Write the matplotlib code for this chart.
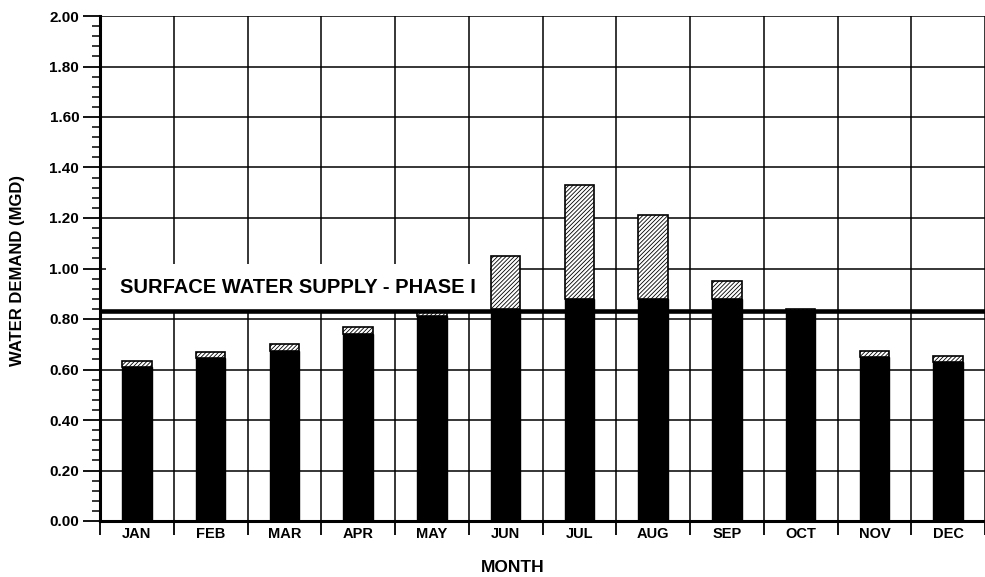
import matplotlib.pyplot as plt
import numpy as np
from matplotlib.ticker import MultipleLocator

plt.rcParams['font.family'] = ['Liberation Sans', 'DejaVu Sans']
plt.rcParams['hatch.linewidth'] = 0.6

months = ["JAN", "FEB", "MAR", "APR", "MAY", "JUN",
          "JUL", "AUG", "SEP", "OCT", "NOV", "DEC"]
# demand met by the base supply (solid) and the extra demand on top (hatched), MGD
base_demand = [0.61, 0.645, 0.675, 0.74, 0.81, 0.84, 0.88, 0.88, 0.88, 0.83, 0.65, 0.63]
extra_demand = [0.025, 0.025, 0.025, 0.03, 0.02, 0.21, 0.45, 0.33, 0.07, 0.01, 0.025, 0.025]
supply_phase1 = 0.83
supply_label = "SURFACE WATER SUPPLY - PHASE I"

fig = plt.figure(figsize=(9.85, 5.77), dpi=100)
ax = fig.add_axes([100 / 985, 56 / 577, 885 / 985, 505 / 577])

x = np.arange(len(months))
ax.bar(x, base_demand, width=0.4, color="black", edgecolor="black", zorder=3)
ax.bar(x, extra_demand, width=0.4, bottom=base_demand, color="white",
       edgecolor="black", hatch="////////", linewidth=1.2, zorder=3)

ax.axhline(supply_phase1, color="black", linewidth=3.3, zorder=4)
ax.text(-0.23, 0.925, supply_label, fontsize=14.5, fontweight="bold",
        va="center", ha="left", zorder=2,
        bbox=dict(facecolor="white", edgecolor="none", pad=10))

ax.set_xlim(-0.5, 11.43)
ax.set_ylim(0, 2.0)
ax.set_xticks(x)
ax.set_xticklabels(months, fontsize=10.5, fontweight="bold")
ax.set_xticks(np.arange(-0.5, 12, 1), minor=True)
ax.tick_params(axis="x", which="major", length=0, pad=4)
ax.tick_params(axis="x", which="minor", length=10, width=1.3, direction="out")

ax.yaxis.set_minor_locator(MultipleLocator(0.04))
ax.set_yticks(np.arange(0, 2.01, 0.2))
ax.set_yticklabels([f"{v:.2f}" for v in np.arange(0, 2.01, 0.2)],
                   fontsize=11, fontweight="bold")
ax.tick_params(axis="y", which="major", length=12, width=1.3, pad=3)
ax.tick_params(axis="y", which="minor", length=6, width=1.1)

ax.grid(True, axis="y", which="major", color="black", linewidth=1.1, zorder=1)
ax.grid(True, axis="x", which="minor", color="black", linewidth=1.1, zorder=1)
ax.set_axisbelow(True)

for side in ["top", "right"]:
    ax.spines[side].set_visible(False)
ax.spines["left"].set_linewidth(2.2)
ax.spines["bottom"].set_linewidth(2.2)

fig.text(18 / 985, 1 - 270 / 577, "WATER DEMAND (MGD)", rotation=90,
         fontsize=12, fontweight="bold", ha="center", va="center")
fig.text(513 / 985, 1 - 567 / 577, "MONTH", fontsize=12.5, fontweight="bold",
         ha="center", va="center")

fig.savefig("out.png", dpi=100)
